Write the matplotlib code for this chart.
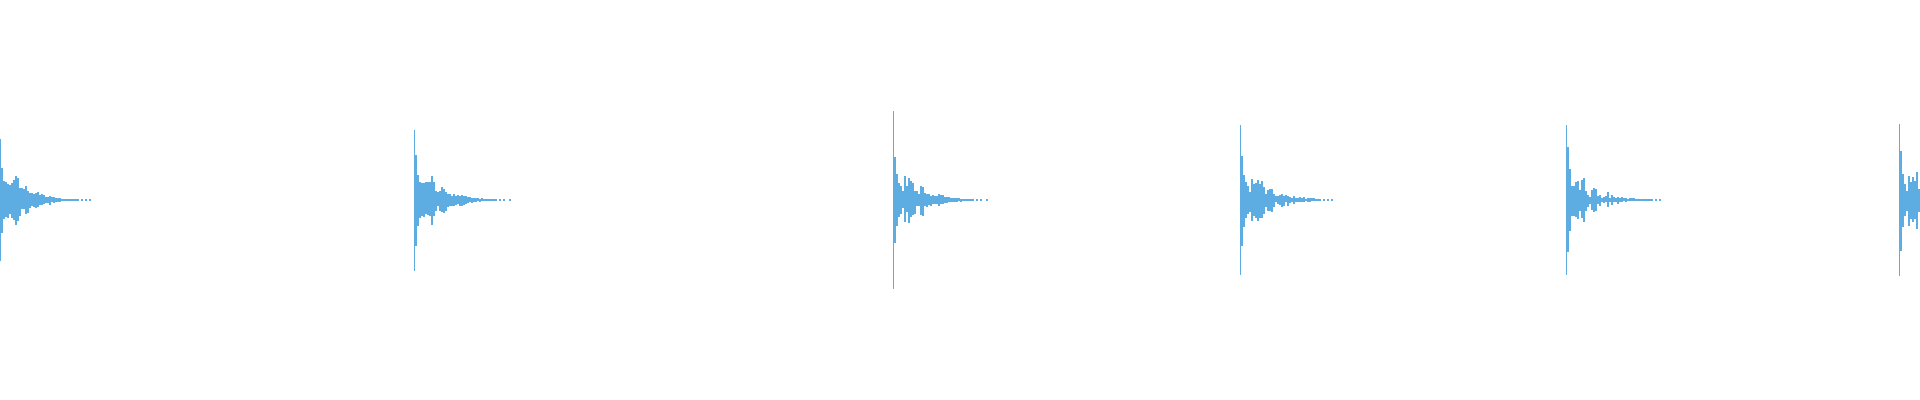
import numpy as np
import matplotlib
matplotlib.use('Agg')
import matplotlib.pyplot as plt

# waveform of six hits, x in samples (one column each), y in amplitude units
hit_onsets = [0, 414, 893, 1240, 1566, 1899]
onset_peak_top = [61, 70, 89, 75, 75, 76]
onset_peak_bottom = [61, 71, 89, 75, 75, 76]

# peak envelopes after the onset, 2 samples per bin
hit1_top = [32, 19, 18, 16, 15, 17, 20, 24, 22, 12, 12, 11, 14, 9, 7, 7, 6, 7, 8, 5,
            6, 5, 3, 3, 4, 3, 3, 2, 2, 2, 1, 1, 1, 1, 1, 1, 1, 1, 1, 0, 1, 0, 1, 0, 1, 0]
hit1_bottom = [33, 19, 17, 18, 14, 18, 20, 25, 21, 16, 9, 9, 14, 13, 8, 6, 7, 8, 7, 5,
               5, 4, 3, 3, 5, 2, 3, 2, 2, 2, 1, 1, 1, 1, 1, 1, 1, 1, 1, 0, 1, 0, 1, 0, 1, 0]

hit2_top = [45, 25, 18, 17, 17, 18, 18, 18, 24, 18, 9, 8, 9, 13, 11, 8, 6, 6, 4, 6,
            4, 5, 4, 5, 4, 4, 3, 3, 2, 2, 2, 2, 1, 2, 1, 1, 1, 1, 1, 1, 1, 0, 1, 0, 1, 0, 0, 1]
hit2_bottom = [46, 26, 18, 16, 17, 14, 15, 16, 25, 16, 11, 6, 11, 12, 13, 11, 7, 6, 6, 6,
               5, 4, 6, 6, 5, 4, 3, 2, 3, 2, 2, 1, 2, 1, 1, 1, 1, 1, 1, 1, 1, 0, 1, 0, 1, 0, 0, 1]

hit3_top = [43, 26, 17, 14, 9, 24, 14, 22, 19, 17, 9, 9, 6, 14, 13, 7, 6, 6, 4, 5,
            4, 4, 6, 5, 5, 3, 3, 3, 2, 2, 2, 2, 2, 1, 1, 1, 1, 1, 1, 1, 0, 1, 0, 1, 0, 0, 1]
hit3_bottom = [43, 26, 17, 14, 8, 22, 12, 23, 17, 15, 14, 6, 6, 15, 16, 6, 7, 5, 6, 4,
               4, 4, 6, 4, 4, 3, 3, 2, 2, 2, 2, 2, 1, 2, 1, 1, 1, 1, 1, 1, 0, 1, 0, 1, 0, 0, 1]

hit4_top = [44, 25, 18, 14, 8, 21, 16, 17, 20, 16, 19, 13, 6, 10, 11, 11, 6, 4, 4, 5,
            6, 4, 5, 4, 3, 2, 4, 2, 2, 3, 2, 3, 1, 2, 2, 2, 2, 1, 1, 1, 0, 1, 0, 1, 0, 1]
hit4_bottom = [46, 27, 18, 14, 12, 21, 16, 18, 21, 18, 18, 14, 7, 11, 11, 12, 7, 2, 4, 5,
               7, 6, 2, 6, 3, 2, 4, 2, 2, 2, 2, 2, 1, 2, 2, 1, 1, 1, 1, 1, 0, 1, 0, 1, 0, 1]

hit5_top = [53, 31, 14, 14, 18, 19, 10, 20, 22, 9, 5, 3, 10, 12, 11, 4, 5, 2, 3, 4,
            8, 2, 5, 3, 2, 3, 2, 3, 2, 2, 1, 2, 2, 2, 1, 1, 1, 1, 1, 1, 1, 1, 1, 0, 1, 0, 1]
hit5_bottom = [52, 31, 16, 16, 17, 19, 11, 18, 22, 11, 7, 4, 10, 12, 11, 4, 6, 2, 3, 2,
               7, 2, 5, 2, 2, 4, 2, 2, 1, 2, 1, 1, 1, 1, 1, 1, 1, 1, 1, 1, 1, 1, 1, 0, 1, 0, 1]

hit6_top = [49, 26, 16, 9, 24, 18, 23, 19, 28, 11]
hit6_bottom = [51, 27, 16, 11, 26, 19, 22, 19, 29, 12]

envelopes = [(hit1_top, hit1_bottom), (hit2_top, hit2_bottom), (hit3_top, hit3_bottom),
             (hit4_top, hit4_bottom), (hit5_top, hit5_bottom), (hit6_top, hit6_bottom)]

wave_color = '#5DADE2'

fig = plt.figure(figsize=(19.2, 4), dpi=100)
ax = fig.add_axes([0, 0, 1, 1])

for onset, pk_t, pk_b, (top, bot) in zip(hit_onsets, onset_peak_top, onset_peak_bottom, envelopes):
    # the onset spike, one sample wide
    ax.bar(onset, pk_t + pk_b, bottom=-pk_b, width=1, align='edge',
           color=wave_color, linewidth=0)
    top = np.array(top)
    bot = np.array(bot)
    x = onset + 1 + 2 * np.arange(len(top))
    ax.bar(x, top + bot, bottom=-bot, width=2, align='edge',
           color=wave_color, linewidth=0)

ax.set_xlim(0, 1920)
ax.set_ylim(-200.5, 199.5)
ax.axis('off')

fig.savefig('out.png', dpi=100)
